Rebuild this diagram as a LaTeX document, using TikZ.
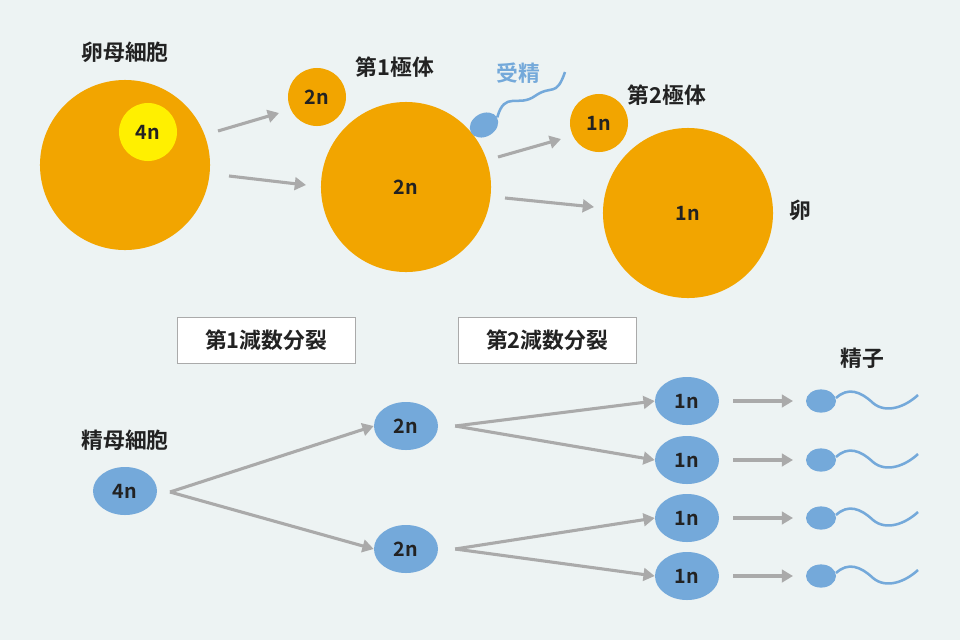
\documentclass[tikz,border=0pt]{standalone}
\usepackage{fontspec}
\setmainfont{Noto Sans CJK JP}[BoldFont={Noto Sans CJK JP Bold}]
\usetikzlibrary{arrows.meta,shapes.geometric}
\definecolor{bgc}{HTML}{EDF3F3}
\definecolor{eggc}{HTML}{F2A500}
\definecolor{nucc}{HTML}{FFF000}
\definecolor{blu}{HTML}{74A9DA}
\definecolor{arr}{HTML}{AAAAAA}
\definecolor{txt}{HTML}{222222}
\tikzset{
  big/.style={circle, fill=eggc, minimum size=4.25cm, font=\bfseries\fontsize{14}{14}\selectfont, text=txt},
  small/.style={circle, fill=eggc, minimum size=1.45cm, font=\bfseries\fontsize{14}{14}\selectfont, text=txt},
  cell/.style={ellipse, fill=blu, minimum width=1.6cm, minimum height=1.2cm, inner sep=0pt, font=\bfseries\fontsize{14}{14}\selectfont, text=txt},
  head/.style={ellipse, fill=blu, minimum width=0.75cm, minimum height=0.58cm, inner sep=0pt},
  lbl/.style={font=\bfseries\fontsize{15.5}{16}\selectfont, text=txt},
  stage/.style={draw=arr, fill=white, minimum width=4.45cm, minimum height=1.15cm, font=\bfseries\fontsize{15.5}{16}\selectfont, text=txt},
  go/.style={draw=arr, line width=2.2pt, -{Triangle[width=9pt,length=8pt]}},
  tail/.style={draw=blu, line width=1.8pt}
}
\newcommand{\spermtail}[1]{\draw[tail] (836,#1-3) .. controls (848,#1-14) and (860,#1-10) .. (873,#1+2) .. controls (886,#1+13) and (905,#1+6) .. (918,#1-6);}
\begin{document}
\begin{tikzpicture}[x=0.025cm, y=-0.025cm]
\fill[bgc] (0,0) rectangle (960,640);
\useasboundingbox (0,0) rectangle (960,640);
% egg side
\node[lbl] (L1) at (125,52) {卵母細胞};
\node[big] (E0) at (125,165) {};
\node[circle, fill=nucc, minimum size=1.45cm, font=\bfseries\fontsize{14}{14}\selectfont, text=txt] (N0) at (148,132) {4n};
\node[small] (P1) at (317,97) {2n};
\node[lbl] (L2) at (395,67) {第1極体};
\node[big] (E1) at (406,187) {2n};
\node[small] (P2) at (599,123) {1n};
\node[lbl] (L3) at (667,95) {第2極体};
\node[big] (E2) at (688,213) {1n};
\node[lbl] (L4) at (800,210) {卵};
\node[lbl, text=blu] (L5) at (518,73) {受精};
\node[head, rotate=30] (H0) at (484,125) {};
\draw[tail] (H0.east) .. controls (505,90) and (518,108) .. (535,96) .. controls (552,84) and (556,98) .. (565,72);
\coordinate (a1) at (218,131); \coordinate (a2) at (229,176);
\coordinate (a3) at (498,157); \coordinate (a4) at (505,198);
\draw[go] (a1) -- (279,113);
\draw[go] (a2) -- (306,185);
\draw[go] (a3) -- (561,139);
\draw[go] (a4) -- (594,207);
% stages
\node[stage] (S1) at (266,340) {第1減数分裂};
\node[stage] (S2) at (547,340) {第2減数分裂};
% sperm side
\node[lbl] (L6) at (125,440) {精母細胞};
\node[cell] (C0) at (125,491) {4n};
\node[cell] (C1) at (406,426) {2n};
\node[cell] (C2) at (406,549) {2n};
\node[lbl] (L7) at (862,358) {精子};
\coordinate (b0) at (170,492);
\draw[go] (b0) -- (C1.west);
\draw[go] (b0) -- (C2.west);
\foreach \y/\s in {401/C1, 460/C1, 518/C2, 576/C2}{
  \node[cell] (D\y) at (687,\y) {1n};
  \draw[go] ([xshift=12pt]\s.east) -- (D\y.west);
  \node[head] (H\y) at (821,\y) {};
  \draw[go] (733,\y) -- (793,\y);
  \spermtail{\y}
}
\end{tikzpicture}
\end{document}
